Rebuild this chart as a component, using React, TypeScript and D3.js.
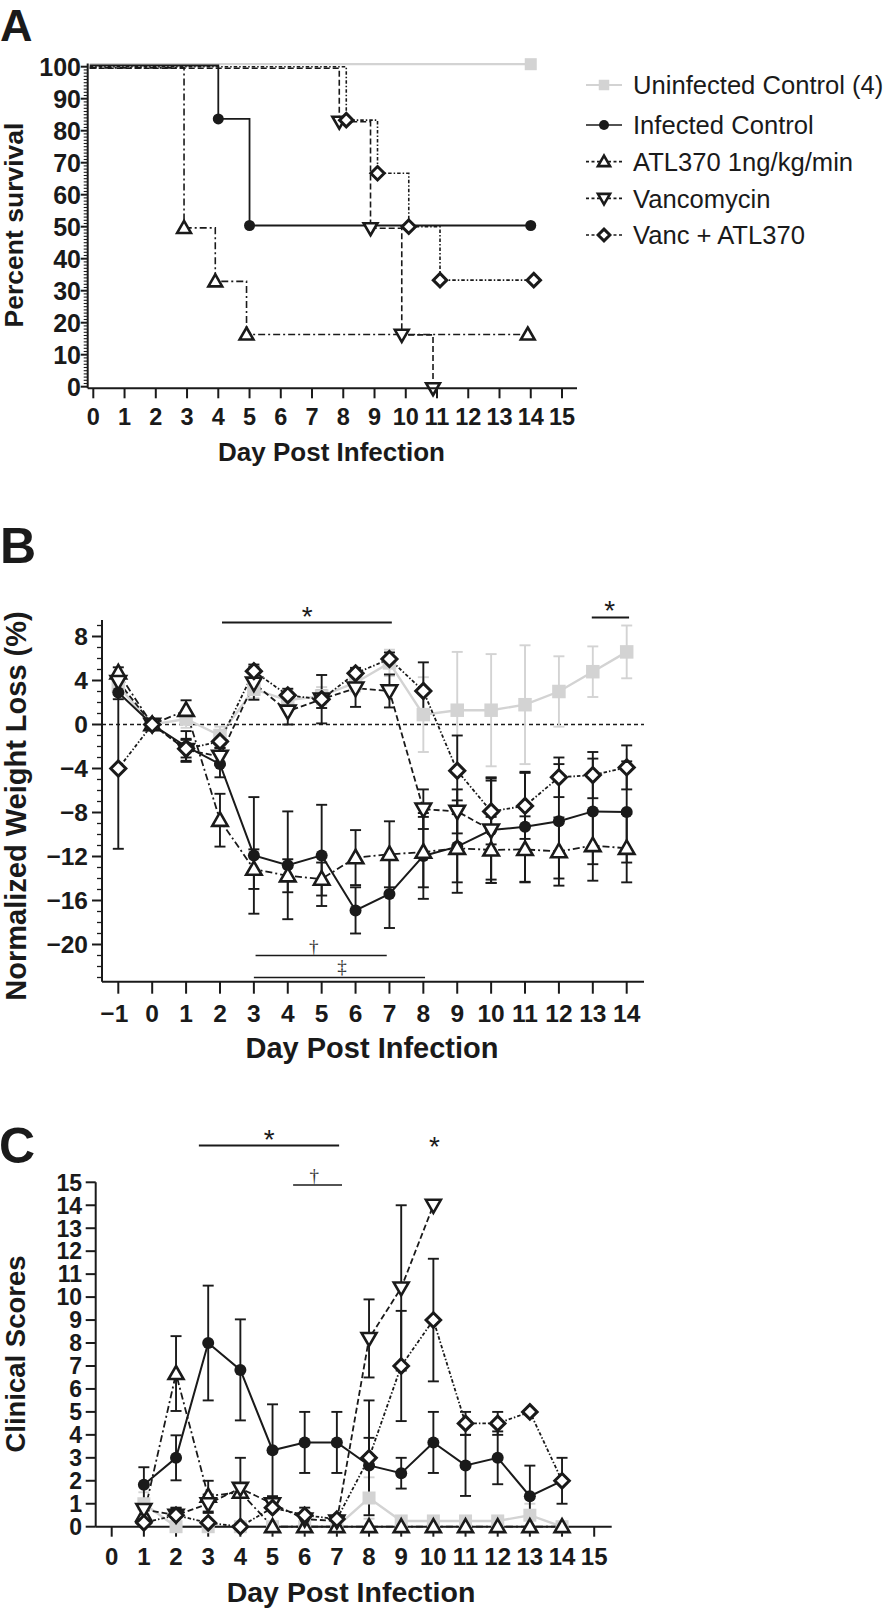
import React from "react";
import * as d3 from "d3";

// ---------------- DATA ----------------
// Panel A: Kaplan-Meier survival (day of step, percent surviving after step)
const survUninfDays = [0, 14];
const survUninfPct = [100, 100];
const survInfDays = [0, 4, 5, 14];
const survInfPct = [100, 83.3, 50, 50];
const survAtlDays = [0, 3, 4, 5, 14];
const survAtlPct = [100, 50, 33.3, 16.7, 16.7];
const survVancDays = [0, 8, 9, 10, 11];
const survVancPct = [100, 83.3, 50, 16.7, 0];
const survComboDays = [0, 8, 9, 10, 11, 14];
const survComboPct = [100, 83.3, 66.7, 50, 33.3, 33.3];

const legendLabels = [
  "Uninfected Control (4)",
  "Infected Control",
  "ATL370 1ng/kg/min",
  "Vancomycin",
  "Vanc + ATL370",
];

// Panel B: normalized weight loss (%), days -1..14
const weightDays = [-1, 0, 1, 2, 3, 4, 5, 6, 7, 8, 9, 10, 11, 12, 13, 14];
const weightUninf = [3.5, 0, 0.5, -1.0, 3.2, 2.2, 2.6, 3.8, 5.6, 0.9, 1.3, 1.3, 1.8, 3.0, 4.8, 6.6];
const weightUninfErr = [0.8, 0, 0.8, 0.8, 0.8, 0.8, 0.8, 0.8, 1.2, 3.4, 5.3, 5.1, 5.4, 3.2, 2.3, 2.4];
const weightInf = [2.9, 0, -2.0, -3.6, -11.9, -12.8, -11.9, -16.9, -15.4, -11.95, -11.1, -9.6, -9.3, -8.8, -7.9, -7.95];
const weightInfErr = [0.6, 0, 1.4, 1.2, 5.3, 4.9, 4.6, 2.1, 3.1, 3.9, 4.2, 4.8, 5.0, 5.2, 4.8, 4.6];
const weightAtl = [4.7, 0, 1.3, -8.7, -13.15, -13.75, -14.05, -12.1, -11.8, -11.6, -11.25, -11.4, -11.35, -11.55, -11.0, -11.25];
const weightAtlErr = [0.5, 0, 0.9, 2.4, 1.8, 1.5, 1.5, 2.5, 3.0, 3.2, 3.1, 3.0, 3.0, 3.1, 3.2, 3.1];
const weightVancDays = [-1, 0, 1, 2, 3, 4, 5, 6, 7, 8, 9, 10];
const weightVanc = [3.9, 0, -2.3, -2.9, 3.75, 1.2, 2.3, 3.3, 3.05, -7.7, -7.9, -9.6];
const weightVancErr = [0.5, 0, 1.0, 0.8, 1.5, 1.2, 2.2, 1.7, 1.5, 1.8, 2.0, 4.5];
const weightCombo = [-4.0, 0, -2.2, -1.55, 4.85, 2.65, 2.3, 4.65, 5.95, 3.05, -4.2, -7.9, -7.4, -4.8, -4.6, -3.9];
const weightComboErr = [7.3, 0, 0.8, 0.6, 0.6, 0.6, 0.8, 0.5, 0.6, 2.6, 3.2, 3.0, 3.0, 1.8, 2.1, 2.0];

// Panel C: clinical scores, days 1..14
const scoreDays = [1, 2, 3, 4, 5, 6, 7, 8, 9, 10, 11, 12, 13, 14];
const scoreUninf = [1.0, 0, 0, 0, 0, 0, 0, 1.25, 0.25, 0.25, 0.25, 0.25, 0.5, 0];
const scoreUninfErr = [0.5, 0, 0, 0, 0, 0, 0, 0.9, 0, 0, 0, 0, 0.5, 0];
const scoreInf = [1.83, 3.0, 8.0, 6.83, 3.33, 3.67, 3.67, 2.67, 2.33, 3.67, 2.67, 3.0, 1.33, 2.0];
const scoreInfErr = [0.76, 0.98, 2.5, 2.2, 2.0, 1.33, 1.33, 1.2, 0.67, 1.33, 1.33, 1.15, 1.33, 1.0];
const scoreAtl = [0.5, 6.67, 1.33, 1.5, 0, 0, 0, 0, 0, 0, 0, 0, 0, 0];
const scoreAtlErr = [0.3, 1.63, 0.67, 1.5, 0, 0, 0, 0, 0, 0, 0, 0, 0, 0];
const scoreVancDays = [1, 2, 3, 4, 5, 6, 7, 8, 9, 10];
const scoreVanc = [0.75, 0.5, 1.0, 1.67, 1.0, 0.33, 0.25, 8.2, 10.4, 14.0];
const scoreVancErr = [0.35, 0.3, 0.4, 0, 0, 0, 0, 1.7, 3.6, 0];
const scoreCombo = [0.17, 0.5, 0.17, 0, 0.83, 0.5, 0.33, 3.0, 7.0, 9.0, 4.5, 4.5, 5.0, 2.0];
const scoreComboErr = [0, 0.33, 0, 0, 0, 0.33, 0, 2.5, 2.4, 2.67, 0.5, 0.5, 0, 0];

// Tick values
const aXTicks = d3.range(0, 16);
const aYTicks = d3.range(0, 101, 10);
const aYMinor = d3.range(0, 101, 1);
const bXTicks = d3.range(-1, 15);
const bYTicks = d3.range(-20, 9, 4);
const bYMinor = d3.range(-23, 10, 1);
const cXTicks = d3.range(0, 16);
const cYTicks = d3.range(0, 16);

// Significance annotations (day range, value level, symbol)
const sigB = [
  { from: 2.06, to: 7.07, level: 9.27, label: "*", at: 4.57 },
  { from: 12.97, to: 14.07, level: 9.73, label: "*", at: 13.5 },
  { from: 3.05, to: 6.92, level: -21.0, label: "†", at: 4.77 },
  { from: 3.0, to: 8.05, level: -23.0, label: "‡", at: 5.6 },
];
const sigC = [
  { from: 2.71, to: 7.07, level: 16.6, label: "*", at: 4.9 },
  { from: 5.64, to: 7.16, level: 14.88, label: "†", at: 6.3 },
  { from: null, to: null, level: 16.15, label: "*", at: 10.03 },
];

// ---------------- STYLE ----------------
const FONT = '"Liberation Sans", Arial, Helvetica, sans-serif';
const SERIF = '"Liberation Serif", "DejaVu Serif", serif';
const GRAY = "#d3d3d3";
const INK = "#1a1a1a";

const fmtNum = (v: number) => (v < 0 ? "\u2212" + Math.abs(v) : String(v));

type Sym = "square" | "circle" | "triUp" | "triDown" | "diamond";
type Style = { sym: Sym; color: string; dash: string | null; width: number; nx: number; ny: number };
const STY: Record<string, Style> = {
  uninf: { sym: "square", color: GRAY, dash: null, width: 2.2, nx: 0, ny: -2.5 },
  inf: { sym: "circle", color: INK, dash: null, width: 1.8, nx: 0, ny: -1.2 },
  atl: { sym: "triUp", color: INK, dash: "7,3,2,3", width: 1.6, nx: -3, ny: 1.2 },
  vanc: { sym: "triDown", color: INK, dash: "6,3", width: 1.6, nx: -4, ny: 1.6 },
  combo: { sym: "diamond", color: INK, dash: "3.5,2,1.5,2", width: 1.6, nx: 3, ny: 0 },
};
const ORDER = ["uninf", "inf", "atl", "vanc", "combo"];

function Marker({ sym, x, y, s }: { sym: Sym; x: number; y: number; s: number }) {
  if (sym === "square")
    return <rect x={x - s / 2} y={y - s / 2} width={s} height={s} fill={GRAY} />;
  if (sym === "circle") return <circle cx={x} cy={y} r={s / 2} fill={INK} />;
  if (sym === "triUp") {
    const w = s * 1.15, h = s;
    return (
      <path
        d={`M${x},${y - h * 0.58}L${x + w / 2},${y + h * 0.42}L${x - w / 2},${y + h * 0.42}Z`}
        fill="#fff" stroke={INK} strokeWidth={2.6} strokeLinejoin="miter"
      />
    );
  }
  if (sym === "triDown") {
    const w = s * 1.15, h = s;
    return (
      <path
        d={`M${x},${y + h * 0.58}L${x + w / 2},${y - h * 0.42}L${x - w / 2},${y - h * 0.42}Z`}
        fill="#fff" stroke={INK} strokeWidth={2.6} strokeLinejoin="miter"
      />
    );
  }
  const r = s * 0.56;
  return (
    <path
      d={`M${x},${y - r}L${x + r},${y}L${x},${y + r}L${x - r},${y}Z`}
      fill="#fff" stroke={INK} strokeWidth={3}
    />
  );
}

function ErrBars({ xs, ys, es, x, y, color, cap }: any) {
  return (
    <g stroke={color} strokeWidth={1.9} fill="none">
      {xs.map((d: number, i: number) => {
        const e = es[i];
        if (!e) return null;
        const cx = x(d), t = y(ys[i] + e), b = y(ys[i] - e);
        return (
          <g key={i}>
            <line x1={cx} x2={cx} y1={t} y2={b} />
            <line x1={cx - cap} x2={cx + cap} y1={t} y2={t} />
            <line x1={cx - cap} x2={cx + cap} y1={b} y2={b} />
          </g>
        );
      })}
    </g>
  );
}

// ---------------- PANEL A ----------------
function PanelA() {
  const x = d3.scaleLinear().domain([0, 15]).range([93.3, 562]);
  const y = d3.scaleLinear().domain([0, 100]).range([386.7, 66.7]);
  const axX = 87.7, axY = 388.3;
  const step = d3.line<[number, number]>().x((d) => d[0]).y((d) => d[1]).curve(d3.curveStepAfter);
  const series = [
    { key: "uninf", days: survUninfDays, pct: survUninfPct },
    { key: "inf", days: survInfDays, pct: survInfPct },
    { key: "atl", days: survAtlDays, pct: survAtlPct },
    { key: "vanc", days: survVancDays, pct: survVancPct },
    { key: "combo", days: survComboDays, pct: survComboPct },
  ];
  const legY = [85, 125, 161.7, 198.3, 235];
  return (
    <g>
      <text x={0} y={41} fontSize={45} fontWeight="bold" fill={INK} fontFamily={FONT}>A</text>
      {series.map((s) => {
        const st = STY[s.key];
        const pts = s.days.map((d, i) => [x(d) + (i > 0 ? st.nx : 0), y(s.pct[i]) + st.ny] as [number, number]);
        pts[0][0] = axX + 2;
        return (
          <path key={s.key} d={step(pts) || ""} fill="none" stroke={st.color} strokeWidth={st.width}
            strokeDasharray={st.dash || undefined} />
        );
      })}
      {series.map((s) => {
        const st = STY[s.key];
        return (
          <g key={s.key + "m"}>
            {s.days.map((d, i) =>
              i === 0 ? null : (
                <Marker key={i} sym={st.sym} x={x(d) + st.nx} y={y(s.pct[i]) + st.ny} s={s.key === "inf" ? 11 : 12} />
              )
            )}
          </g>
        );
      })}
      {/* axes */}
      <g stroke={INK} strokeWidth={2}>
        <line x1={axX} x2={axX} y1={axY} y2={y(101)} />
        <line x1={axX} x2={577} y1={axY} y2={axY} />
        {aYMinor.map((v) => (
          <line key={v} x1={axX - (v % 10 === 0 ? 7 : 4)} x2={axX} y1={y(v)} y2={y(v)} strokeWidth={v % 10 === 0 ? 2 : 1.1} />
        ))}
        {aXTicks.map((v) => (
          <line key={v} x1={x(v)} x2={x(v)} y1={axY} y2={axY + 10} />
        ))}
      </g>
      <g fontFamily={FONT} fontWeight="bold" fill={INK} fontSize={25}>
        {aYTicks.map((v) => (
          <text key={v} x={81} y={y(v)} dy="0.36em" textAnchor="end">{v}</text>
        ))}
        {aXTicks.map((v) => (
          <text key={v} x={x(v)} y={416.7} dy="0.36em" textAnchor="middle" fontSize={23.5}>{v}</text>
        ))}
        <text x={331.5} y={451.7} dy="0.36em" textAnchor="middle" fontSize={26}>Day Post Infection</text>
        <text transform="translate(13.5,225) rotate(-90)" dy="0.36em" textAnchor="middle" fontSize={26.5}>Percent survival</text>
      </g>
      {/* legend */}
      {ORDER.map((k, i) => {
        const st = STY[k];
        return (
          <g key={k}>
            <line x1={586} x2={622} y1={legY[i]} y2={legY[i]} stroke={st.color} strokeWidth={k === "uninf" ? 2 : 1.7}
              strokeDasharray={k === "inf" || k === "uninf" ? undefined : "3,2.5"} />
            <Marker sym={st.sym} x={604} y={legY[i]} s={k === "inf" ? 10 : 10.5} />
            <text x={633} y={legY[i]} dy="0.36em" fontFamily={FONT} fontSize={25.6} fill={INK}>{legendLabels[i]}</text>
          </g>
        );
      })}
    </g>
  );
}

// ---------------- PANEL B ----------------
function PanelB() {
  const x = d3.scaleLinear().domain([-1, 14]).range([118.3, 626.7]);
  const y = d3.scaleLinear().domain([-20, 8]).range([944.5, 636.5]);
  const axX = 102, axY = 981.7;
  const line = d3.line<[number, number]>();
  const series = [
    { key: "uninf", days: weightDays, v: weightUninf, e: weightUninfErr },
    { key: "inf", days: weightDays, v: weightInf, e: weightInfErr },
    { key: "atl", days: weightDays, v: weightAtl, e: weightAtlErr },
    { key: "vanc", days: weightVancDays, v: weightVanc, e: weightVancErr },
    { key: "combo", days: weightDays, v: weightCombo, e: weightComboErr },
  ];
  return (
    <g>
      <text x={0} y={563.3} fontSize={50} fontWeight="bold" fill={INK} fontFamily={FONT}>B</text>
      <line x1={axX} x2={644} y1={y(0)} y2={y(0)} stroke={INK} strokeWidth={1.6} strokeDasharray="4,3" />
      {series.map((s) => (
        <ErrBars key={s.key + "e"} xs={s.days} ys={s.v} es={s.e} x={x} y={y}
          color={s.key === "uninf" ? GRAY : INK} cap={5.5} />
      ))}
      {series.map((s) => {
        const st = STY[s.key];
        const pts = s.days.map((d, i) => [x(d), y(s.v[i])] as [number, number]);
        return (
          <path key={s.key} d={line(pts) || ""} fill="none" stroke={st.color} strokeWidth={st.width + 0.2}
            strokeDasharray={st.dash || undefined} />
        );
      })}
      {series.map((s) => {
        const st = STY[s.key];
        return (
          <g key={s.key + "m"}>
            {s.days.map((d, i) => (
              <Marker key={i} sym={st.sym} x={x(d)} y={y(s.v[i])} s={s.key === "inf" ? 12 : 13.5} />
            ))}
          </g>
        );
      })}
      {/* axes */}
      <g stroke={INK} strokeWidth={2}>
        <line x1={axX} x2={axX} y1={axY} y2={y(9.5)} />
        <line x1={axX} x2={644} y1={axY} y2={axY} />
        {bYMinor.map((v) => (
          <line key={v} x1={axX - ((v + 20) % 4 === 0 ? 10 : 5)} x2={axX} y1={y(v)} y2={y(v)} strokeWidth={(v + 20) % 4 === 0 ? 2 : 1.3} />
        ))}
        {bXTicks.map((v) => (
          <line key={v} x1={x(v)} x2={x(v)} y1={axY} y2={axY + 12} />
        ))}
      </g>
      <g fontFamily={FONT} fontWeight="bold" fill={INK} fontSize={24.5}>
        {bYTicks.map((v) => (
          <text key={v} x={88} y={y(v)} dy="0.36em" textAnchor="end">{fmtNum(v)}</text>
        ))}
        {bXTicks.map((v) => (
          <text key={v} x={x(v) - (v < 0 ? 4 : 0)} y={1013.5} dy="0.36em" textAnchor="middle">{fmtNum(v)}</text>
        ))}
        <text x={372} y={1048} dy="0.36em" textAnchor="middle" fontSize={29}>Day Post Infection</text>
        <text transform="translate(16,806) rotate(-90)" dy="0.36em" textAnchor="middle" fontSize={29}>Normalized Weight Loss (%)</text>
      </g>
      {/* significance */}
      {sigB.map((s, i) => {
        const yy = y(s.level);
        const isStar = s.label === "*";
        return (
          <g key={i}>
            <line x1={x(s.from)} x2={x(s.to)} y1={yy} y2={yy} stroke={INK} strokeWidth={isStar ? 2 : 1.5} />
            {isStar ? (
              <text x={x(s.at)} y={yy + 3} textAnchor="middle" fontFamily={FONT} fontSize={28} fill={INK}>*</text>
            ) : (
              <text x={x(s.at)} y={s.label === "†" ? yy - 3 : yy - 5} textAnchor="middle" fontFamily={SERIF} fontSize={19} fill="#333">{s.label}</text>
            )}
          </g>
        );
      })}
    </g>
  );
}

// ---------------- PANEL C ----------------
function PanelC() {
  const x = d3.scaleLinear().domain([0, 15]).range([111.7, 594.2]);
  const y = d3.scaleLinear().domain([0, 15]).range([1526.7, 1182.3]);
  const axX = 95.7, axY = 1526.7;
  const line = d3.line<[number, number]>();
  const series = [
    { key: "uninf", days: scoreDays, v: scoreUninf, e: scoreUninfErr },
    { key: "inf", days: scoreDays, v: scoreInf, e: scoreInfErr },
    { key: "atl", days: scoreDays, v: scoreAtl, e: scoreAtlErr },
    { key: "vanc", days: scoreVancDays, v: scoreVanc, e: scoreVancErr },
    { key: "combo", days: scoreDays, v: scoreCombo, e: scoreComboErr },
  ];
  return (
    <g>
      <text x={-1} y={1162.5} fontSize={50} fontWeight="bold" fill={INK} fontFamily={FONT}>C</text>
      {series.map((s) => (
        <ErrBars key={s.key + "e"} xs={s.days} ys={s.v} es={s.e} x={x} y={y}
          color={s.key === "uninf" ? GRAY : INK} cap={5.5} />
      ))}
      {series.map((s) => {
        const st = STY[s.key];
        const pts = s.days.map((d, i) => [x(d), y(s.v[i])] as [number, number]);
        return (
          <path key={s.key} d={line(pts) || ""} fill="none" stroke={st.color} strokeWidth={st.width + 0.2}
            strokeDasharray={st.dash || undefined} />
        );
      })}
      {/* axes */}
      <g stroke={INK} strokeWidth={2}>
        <line x1={axX} x2={axX} y1={axY} y2={y(15)} />
        <line x1={axX} x2={611.7} y1={axY} y2={axY} />
        {cYTicks.map((v) => (
          <line key={v} x1={axX - 10} x2={axX} y1={y(v)} y2={y(v)} />
        ))}
        {cXTicks.map((v) => (
          <line key={v} x1={x(v)} x2={x(v)} y1={axY} y2={axY + 10} />
        ))}
      </g>
      {series.map((s) => {
        const st = STY[s.key];
        return (
          <g key={s.key + "m"}>
            {s.days.map((d, i) => (
              <Marker key={i} sym={st.sym} x={x(d)} y={y(s.v[i])} s={s.key === "inf" ? 12 : 13} />
            ))}
          </g>
        );
      })}
      <g fontFamily={FONT} fontWeight="bold" fill={INK} fontSize={23}>
        {cYTicks.map((v) => (
          <text key={v} x={82} y={y(v)} dy="0.36em" textAnchor="end">{v}</text>
        ))}
        {cXTicks.map((v) => (
          <text key={v} x={x(v)} y={1556.7} dy="0.36em" textAnchor="middle" fontSize={24}>{v}</text>
        ))}
        <text x={351} y={1592} dy="0.36em" textAnchor="middle" fontSize={28.5}>Day Post Infection</text>
        <text transform="translate(15,1354) rotate(-90)" dy="0.36em" textAnchor="middle" fontSize={27.5}>Clinical Scores</text>
      </g>
      {sigC.map((s, i) => {
        const yy = y(s.level);
        const isStar = s.label === "*";
        return (
          <g key={i}>
            {s.from != null && (
              <line x1={x(s.from)} x2={x(s.to as number)} y1={yy} y2={yy} stroke={INK} strokeWidth={isStar ? 2 : 1.5} />
            )}
            {isStar ? (
              <text x={x(s.at)} y={s.from != null ? yy + 3 : yy} textAnchor="middle" fontFamily={FONT} fontSize={28} fill={INK}>*</text>
            ) : (
              <text x={x(s.at)} y={yy - 3} textAnchor="middle" fontFamily={SERIF} fontSize={19} fill="#333">{s.label}</text>
            )}
          </g>
        );
      })}
    </g>
  );
}

export default function App() {
  const W = 893, H = 1608;
  return (
    <div style={{ position: "absolute", left: 0, top: 0, width: W, height: H, background: "#fff" }}>
      <svg width={W} height={H} viewBox={`0 0 ${W} ${H}`} style={{ display: "block", fontFamily: FONT }}>
        <rect width={W} height={H} fill="#fff" />
        <PanelA />
        <PanelB />
        <PanelC />
      </svg>
    </div>
  );
}
